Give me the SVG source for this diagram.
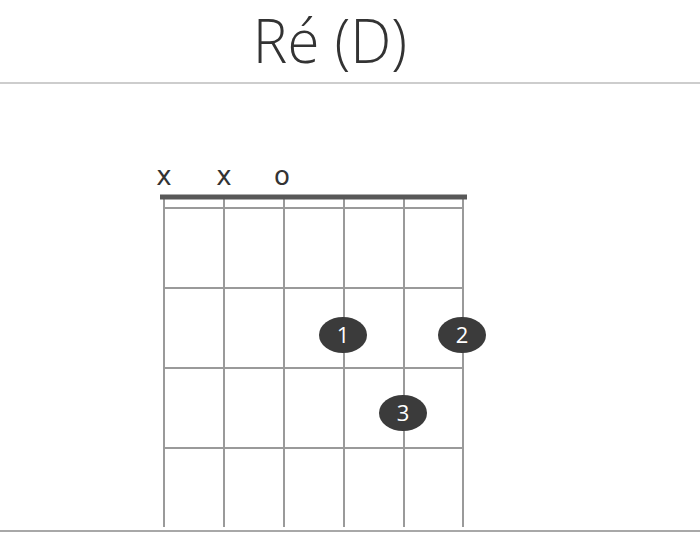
<svg xmlns="http://www.w3.org/2000/svg" width="700" height="538" viewBox="0 0 700 538">
<style>
.str{stroke:#9a9a9a;stroke-width:2;fill:none}
.dot{fill:#3b3b3b}
.num{font-family:"Open Sans","DejaVu Sans",sans-serif;font-size:22px;fill:#fff;text-anchor:middle}
.mark{font-family:"DejaVu Sans",sans-serif;font-size:26px;fill:#333;text-anchor:middle}
</style>
<rect width="700" height="538" fill="#fff"/>
<text x="330" y="63" font-family="Open Sans, sans-serif" font-weight="300" font-size="60" fill="#333" text-anchor="middle" transform="translate(330 0) scale(0.97 1) translate(-330 0)">Ré (D)</text>
<line x1="0" y1="83" x2="700" y2="83" stroke="#bdbdbd" stroke-width="1.5"/>
<line x1="0" y1="531" x2="700" y2="531" stroke="#a8a8a8" stroke-width="2"/>
<g id="grid">
<line class="str" x1="164" y1="198" x2="164" y2="527"/>
<line class="str" x1="224" y1="198" x2="224" y2="527"/>
<line class="str" x1="284" y1="198" x2="284" y2="527"/>
<line class="str" x1="344" y1="198" x2="344" y2="527"/>
<line class="str" x1="404" y1="198" x2="404" y2="527"/>
<line class="str" x1="463" y1="198" x2="463" y2="527"/>
<line class="str" x1="164" y1="208" x2="463" y2="208" stroke-width="1.5"/>
<line class="str" x1="164" y1="288" x2="463" y2="288"/>
<line class="str" x1="164" y1="368" x2="463" y2="368"/>
<line class="str" x1="164" y1="448" x2="463" y2="448"/>
<line x1="160" y1="197" x2="467" y2="197" stroke="#585858" stroke-width="5"/>
</g>
<g id="marks">
<text class="mark" x="164" y="185">x</text>
<text class="mark" x="224" y="185">x</text>
<text class="mark" x="282" y="185">o</text>
</g>
<g id="f1"><ellipse class="dot" cx="343" cy="335" rx="24" ry="18"/><text class="num" x="343" y="343">1</text></g>
<g id="f2"><ellipse class="dot" cx="462" cy="335" rx="24" ry="18"/><text class="num" x="462" y="343">2</text></g>
<g id="f3"><ellipse class="dot" cx="403" cy="413" rx="24" ry="18"/><text class="num" x="403" y="421">3</text></g>
</svg>
